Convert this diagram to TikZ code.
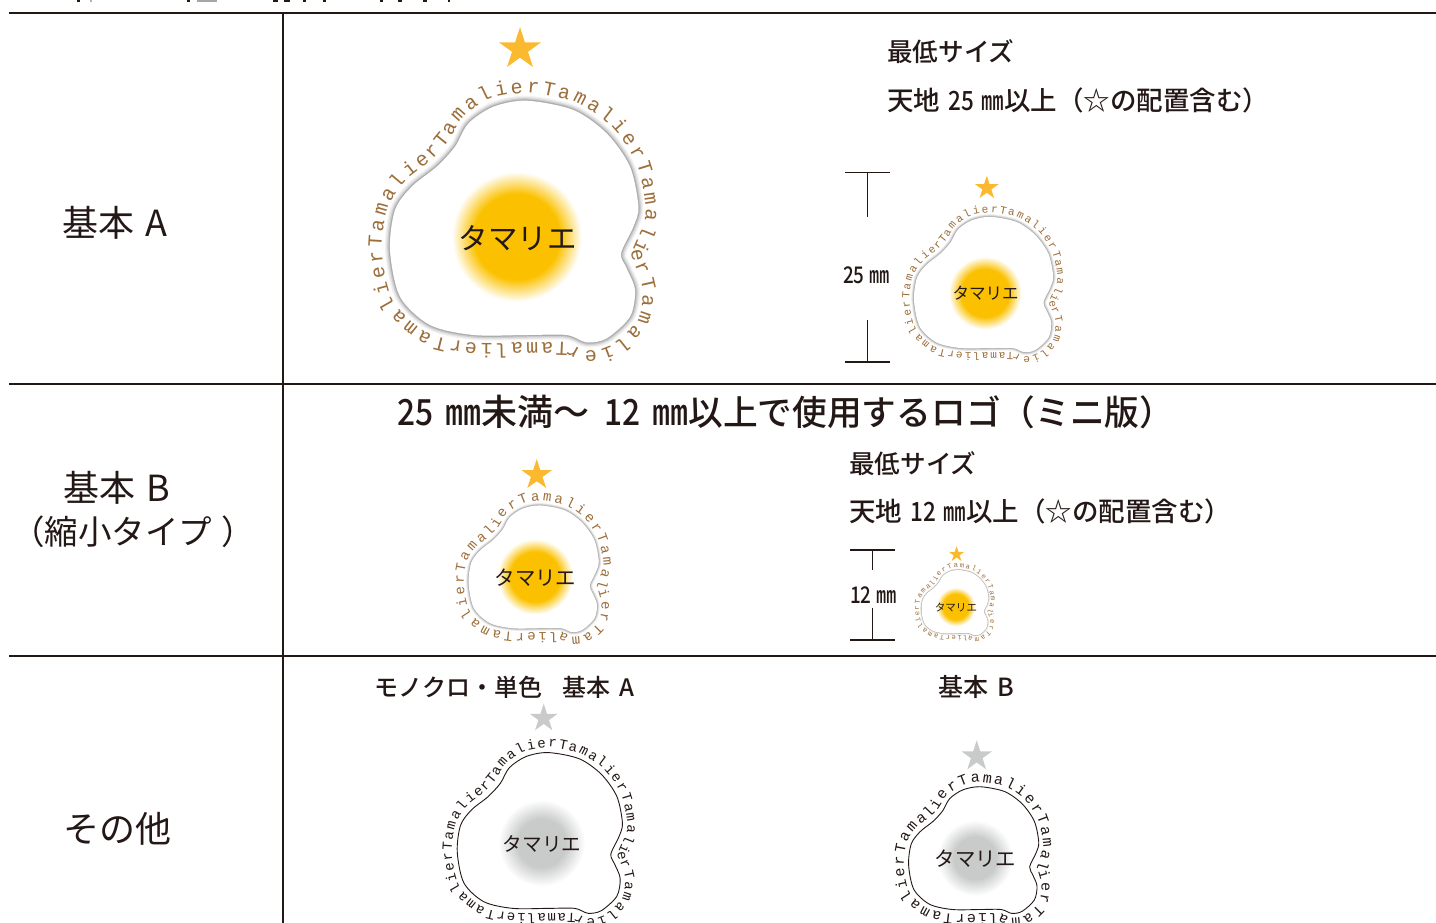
\documentclass[tikz,border=0pt]{standalone}
\usepackage{graphicx}
\usepackage{fontspec}
\usetikzlibrary{decorations.markings,shapes.geometric}
\setmainfont{Noto Sans CJK JP Medium}
\newfontfamily\plainjp{Noto Sans CJK JP}
\newfontfamily\logomono{Liberation Mono}
\definecolor{inkC}{HTML}{231815}
\definecolor{yolkC}{HTML}{FBC100}
\definecolor{yolkM}{HTML}{C9CACA}
\definecolor{starC}{HTML}{FBB92F}
\definecolor{starM}{HTML}{C9CACA}
\definecolor{txtC}{HTML}{9C6E3A}
\definecolor{txtM}{HTML}{231815}
\pgfdeclareradialshading{yolkshadeC}{\pgfpoint{0bp}{0bp}}{color(0bp)=(yolkC); color(16.5bp)=(yolkC); color(25bp)=(white); color(50bp)=(white)}
\pgfdeclareradialshading{yolkshadeM}{\pgfpoint{0bp}{0bp}}{color(0bp)=(yolkM); color(14bp)=(yolkM); color(25bp)=(white); color(50bp)=(white)}
\newcommand\tamchar[1]{\ifcase#1 T\or a\or m\or a\or l\or i\or e\or r\fi}
\newcommand\cnd[1]{\scalebox{.88}[1]{#1}}
\tikzset{lettermarks/.style={postaction={decorate,decoration={markings,
  mark=between positions 0 and 0.99 step #1 with {
    \pgfkeysgetvalue{/pgf/decoration/mark info/sequence number}\seqno
    \pgfmathtruncatemacro\chno{mod(\seqno-1,8)}
    \node[transform shape,anchor=base,inner sep=0pt,yshift=\logolift,font=\logofont,text=\logocolor] {\tamchar{\chno}};
  }}}}}
\newcommand\eggpath[1]{\path[#1] plot[smooth cycle] coordinates {(10,136)(56.7,126.7)(90,103.3)(113.3,70)(121.7,30)(116.7,10)(104.3,-16.7)(110,-31.7)(118.3,-53.3)(113.3,-80)(90,-101.7)(70,-105.7)(50,-98.3)(10,-98.3)(-43.3,-98.3)(-86.7,-88.3)(-116.7,-60)(-126.7,-13.3)(-121.7,26.7)(-105,50)(-80,70)(-61.7,90)(-48.3,113.3)(-23.3,130)};}
\newcommand\baseA{\path[lettermarks=0.017857] plot[smooth cycle] coordinates {(10,142)(31,139)(59,132)(94,108)(118,72)(127,30)(124,11)(113,-16)(117,-31)(124,-53)(119,-83)(93,-107)(70,-112)(50,-104)(10,-104)(-44,-104)(-89,-94)(-122,-63)(-133,-14)(-127,28)(-110,54)(-84,75)(-66,95)(-52,118)(-25,136)};}
\newcommand\baseB{\path[lettermarks=0.025] plot[smooth cycle] coordinates {(-54,120)(-20,140)(10,145)(60,135)(96,110)(120,73)(130,30)(128,11)(119,-16)(122,-31)(127,-53)(122,-85)(95,-110)(70,-115)(50,-107)(10,-107)(-44,-107)(-91,-97)(-125,-65)(-136,-14)(-130,29)(-113,56)(-86,77)(-68,97)};}
\newcommand\eggC[1]{%
  \eggpath{draw=black!5,line width=10pt}
  \eggpath{draw=black!11,line width=7.5pt}
  \eggpath{draw=black!20,line width=5pt}
  \eggpath{draw=black!32,line width=2.5pt}
  \eggpath{fill=white}}
\newcommand\eggM[1]{\eggpath{draw=inkC,fill=white,line width=.9pt/#1}}
\def\kanaA{29.5}\def\kanaB{39}
\def\yolkA{65}\def\yolkB{72}
\def\starA{187.5}\def\starB{194}
\def\starsizeA{44pt}\def\starsizeB{61pt}
\def\liftA{2pt}\def\liftB{0pt}
% x, y, scale, text size, variant A/B, colour mode C/M
\newcommand\logo[6]{%
  \begin{scope}[transform canvas={shift={(#1,#2)},scale=#3}]
    \pgfmathsetmacro\lettersize{#4/#3}
    \def\logofont{\fontsize{\lettersize}{\lettersize}\selectfont\logomono}
    \def\logocolor{txt#6}
    \edef\logolift{\csname lift#5\endcsname}
    \edef\kanasize{\csname kana#5\endcsname}
    \csname egg#6\endcsname{#3}
    \path[shade,shading=yolkshade#6] (0,0) circle (\csname yolk#5\endcsname);
    \csname base#5\endcsname
    \node[text=inkC,inner sep=0pt,font={\fontsize{\kanasize}{\kanasize}\selectfont\plainjp}] at (1,-1) {タマリエ};
    \node[star,star points=5,star point ratio=2.618,fill=star#6,inner sep=0pt,minimum size=\csname starsize#5\endcsname] at (3.3,\csname star#5\endcsname) {};
  \end{scope}}
\tikzset{
  rule/.style={draw=inkC,line width=2.5pt},
  dimline/.style={draw=inkC,line width=1.2pt},
  lab/.style={anchor=west,inner sep=0pt,text=inkC},
  rowfont/.style={font={\fontsize{36}{36}\selectfont\plainjp}},
  headfont/.style={font={\fontsize{36}{36}\selectfont}},
  bigfont/.style={font={\fontsize{25.6}{25.6}\selectfont}},
  linefont/.style={font={\fontsize{26.5}{26.5}\selectfont}},
  midfont/.style={font={\fontsize{25}{25}\selectfont}},
  dimfont/.style={font={\fontsize{23}{23}\selectfont}},
}
\begin{document}
\begin{tikzpicture}[x=1pt,y=1pt]
\path[use as bounding box,clip] (0,-923) rectangle (1436,0);
\fill[white] (0,-923) rectangle (1436,0);
% clipped remains of the line above the table
\foreach \mx/\mw/\mc in {77/3/inkC,90/2/black!30,187/3/inkC,197/20/black!35,273/5/inkC,284/6/inkC,303/3/inkC,323/3/inkC,380/3/inkC,398/4/inkC,423/4/inkC,448/2/inkC}
  \fill[\mc] (\mx,-2.5) rectangle ++(\mw,2.5);
% table rules
\coordinate (r1l) at (9,-13); \coordinate (r1r) at (1436,-13);
\coordinate (r2l) at (9,-384); \coordinate (r2r) at (1436,-384);
\coordinate (r3l) at (9,-656); \coordinate (r3r) at (1436,-656);
\coordinate (vt) at (283,-13); \coordinate (vb) at (283,-923);
\draw[rule] (r1l) -- (r1r);
\draw[rule] (r2l) -- (r2r);
\draw[rule] (r3l) -- (r3r);
\draw[draw=inkC,line width=2pt] (vt) -- (vb);
% row labels
\node[lab,rowfont] (la) at (62,-223) {基本\hspace{11pt}A};
\node[lab,rowfont] (lb) at (63,-488) {基本\hspace{11pt}B};
\node[lab,font={\fontsize{33.5}{33.5}\selectfont\plainjp}] (lc) at (11,-532) {（縮小タイプ\hspace{9pt}）};
\node[lab,rowfont] (ld) at (63,-829) {その他};
% logos
\logo{516.7}{-236.7}{1}{20}{A}{C}
\logo{985}{-293}{0.56}{11}{A}{C}
\logo{535}{-576.7}{0.524}{14}{B}{C}
\logo{955.7}{-606.7}{0.27}{7.2}{B}{C}
\logo{541.5}{-843}{0.665}{14}{A}{M}
\logo{975}{-858}{0.524}{15}{B}{M}
% notes
\node[lab,bigfont] (n1) at (887,-52) {最低サイズ};
\node[lab,linefont] (n2) at (887,-100) {天地\hspace{8pt}\scalebox{.85}[1]{25}\hspace{8pt}\scalebox{.85}[1]{㎜}以上（☆の配置含む）};
\node[lab,headfont] (h) at (397,-412) {\cnd{25}\hspace{12pt}㎜未満〜\hspace{15pt}\cnd{12}\hspace{12pt}㎜{\fontsize{34.7}{34.7}\selectfont 以上で使用するロゴ（ミニ版）}};
\node[lab,bigfont] (n3) at (849,-464) {最低サイズ};
\node[lab,linefont] (n4) at (849,-511) {天地\hspace{8pt}\scalebox{.85}[1]{12}\hspace{8pt}\scalebox{.85}[1]{㎜}以上（☆の配置含む）};
\node[lab,font={\fontsize{24}{24}\selectfont}] (m1) at (374,-687) {モノクロ・単色\hspace{20pt}基本\hspace{9pt}A};
\node[lab,midfont] (m2) at (938,-687) {基本\hspace{9pt}B};
% dimensions
\node[lab,dimfont] (d25) at (843,-275) {\scalebox{.82}[1]{25}\hspace{5pt}\scalebox{.88}[1]{㎜}};
\node[lab,dimfont] (d12) at (850,-595) {\scalebox{.82}[1]{12}\hspace{5pt}\scalebox{.88}[1]{㎜}};
\coordinate (a1) at (845,-172.7); \coordinate (a2) at (890,-172.7);
\coordinate (a3) at (867.5,-172.7); \coordinate (a4) at (867.5,-217);
\coordinate (a5) at (845,-362); \coordinate (a6) at (890,-362);
\coordinate (a7) at (867.5,-362); \coordinate (a8) at (867.5,-320);
\draw[dimline] (a1) -- (a2);
\draw[dimline] (a3) -- (a4);
\draw[dimline] (a5) -- (a6);
\draw[dimline] (a7) -- (a8);
\coordinate (b1) at (850,-550); \coordinate (b2) at (895,-550);
\coordinate (b3) at (872.5,-550); \coordinate (b4) at (872.5,-570);
\coordinate (b5) at (850,-640); \coordinate (b6) at (895,-640);
\coordinate (b7) at (872.5,-640); \coordinate (b8) at (872.5,-608);
\draw[dimline] (b1) -- (b2);
\draw[dimline] (b3) -- (b4);
\draw[dimline] (b5) -- (b6);
\draw[dimline] (b7) -- (b8);
\end{tikzpicture}
\end{document}
